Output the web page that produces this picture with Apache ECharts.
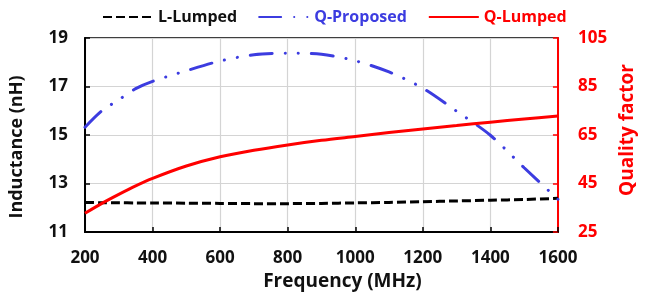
<!DOCTYPE html>
<html>
<head>
<meta charset="utf-8">
<script src="https://cdn.jsdelivr.net/npm/echarts@6/dist/echarts.min.js"></script>
<style>html,body{margin:0;padding:0;background:#fff}#c{width:645px;height:300px}</style>
</head>
<body>
<div id="c"></div>
<script>
const freqs = [200, 250, 300, 350, 400, 500, 600, 700, 800, 900, 1000, 1100, 1200, 1300, 1400, 1500, 1600];
const lLumped = [12.22, 12.21, 12.21, 12.20, 12.20, 12.19, 12.18, 12.17, 12.17, 12.18, 12.20, 12.22, 12.25, 12.28, 12.31, 12.34, 12.39];
const qProposed = [68.2, 75.0, 79.5, 84.1, 87.1, 91.5, 95.5, 98.1, 98.7, 98.3, 95.6, 91.0, 84.3, 74.8, 64.9, 51.5, 38.5];
const qLumped = [32.7, 36.8, 40.5, 44.0, 47.1, 52.2, 56.0, 58.7, 60.9, 62.8, 64.4, 66.0, 67.5, 68.9, 70.3, 71.6, 72.8];
const seriesNames = ['L-Lumped', 'Q-Proposed', 'Q-Lumped'];
const xTicks = {min: 200, max: 1600, step: 200};
const lTicks = {min: 11, max: 19, step: 2};
const qTicks = {min: 25, max: 105, step: 20};

const FONT = 'Open Sans';
const BLUE = '#3c3ce0';
const RED = '#ff0000';
const pair = (xs, ys) => xs.map((x, i) => [x, ys[i]]);
const plain = v => String(v);

const chart = echarts.init(document.getElementById('c'), null, {renderer: 'canvas'});
chart.setOption({
  animation: false,
  backgroundColor: '#fff',
  textStyle: {fontFamily: FONT},
  legend: {
    left: 97, top: 4,
    itemWidth: 50, itemHeight: 14, itemGap: 21,
    itemStyle: {opacity: 0, borderWidth: 0},
    textStyle: {fontFamily: FONT, fontSize: 16, fontWeight: 'bold', color: '#111'},
    data: [
      {name: seriesNames[0], textStyle: {color: '#111'}},
      {name: seriesNames[1], textStyle: {color: BLUE}},
      {name: seriesNames[2], textStyle: {color: RED}}
    ]
  },
  grid: {left: 79, right: 80, top: 38, bottom: 68, show: true, borderColor: '#000', borderWidth: 1.5, backgroundColor: 'transparent'},
  xAxis: {
    type: 'value', min: xTicks.min, max: xTicks.max, interval: xTicks.step,
    name: 'Frequency (MHz)', nameLocation: 'middle', nameGap: 39,
    nameTextStyle: {fontFamily: FONT, fontSize: 19, fontWeight: 'bold', color: '#111', padding: [0, 0, 0, 42]},
    axisLine: {show: true, lineStyle: {color: '#000', width: 2}},
    axisTick: {show: true, inside: true, length: 5, lineStyle: {color: '#000', width: 1.5}},
    axisLabel: {margin: 18, fontFamily: FONT, fontSize: 17, fontWeight: 'bold', color: '#111', formatter: plain},
    splitLine: {show: true, lineStyle: {color: '#d4d4d4', width: 1.2}}
  },
  yAxis: [
    {
      type: 'value', min: lTicks.min, max: lTicks.max, interval: lTicks.step, startValue: lTicks.min,
      name: 'Inductance (nH)', nameLocation: 'middle', nameGap: 59, nameRotate: 90,
      nameTextStyle: {fontFamily: FONT, fontSize: 18, fontWeight: 'bold', color: '#111', padding: [0, 24, 0, 0]},
      axisLine: {show: true, lineStyle: {color: '#000', width: 2}},
      axisTick: {show: true, inside: true, length: 5, lineStyle: {color: '#000', width: 1.5}},
      axisLabel: {margin: 17, fontFamily: FONT, fontSize: 17, fontWeight: 'bold', color: '#111', formatter: plain},
      splitLine: {show: true, lineStyle: {color: '#d4d4d4', width: 1.2}}
    },
    {
      type: 'value', position: 'right', min: qTicks.min, max: qTicks.max, interval: qTicks.step, startValue: qTicks.min,
      name: 'Quality factor', nameLocation: 'middle', nameGap: 59, nameRotate: 90,
      nameTextStyle: {fontFamily: FONT, fontSize: 19, fontWeight: 'bold', color: RED, padding: [0, 0, 0, 10]},
      axisLine: {show: true, lineStyle: {color: RED, width: 2}},
      axisTick: {show: true, inside: true, length: 5, lineStyle: {color: RED, width: 1.5}},
      axisLabel: {margin: 20, fontFamily: FONT, fontSize: 17, fontWeight: 'bold', color: RED, formatter: plain},
      splitLine: {show: false}
    }
  ],
  series: [
    {
      name: seriesNames[0], type: 'line', yAxisIndex: 0, symbol: 'none', smooth: 0.3, z: 3,
      data: pair(freqs, lLumped),
      itemStyle: {color: '#000'},
      lineStyle: {color: '#000', width: 3, type: [9, 4]}
    },
    {
      name: seriesNames[1], type: 'line', yAxisIndex: 1, symbol: 'none', smooth: 0.3, z: 4,
      data: pair(freqs, qProposed),
      itemStyle: {color: BLUE},
      lineStyle: {color: BLUE, width: 3, type: [22, 13, 0.1, 13, 0.1, 13], cap: 'round'}
    },
    {
      name: seriesNames[2], type: 'line', yAxisIndex: 1, symbol: 'none', smooth: 0.3, z: 5,
      data: pair(freqs, qLumped),
      itemStyle: {color: RED},
      lineStyle: {color: RED, width: 3}
    }
  ]
});
</script>
</body>
</html>
